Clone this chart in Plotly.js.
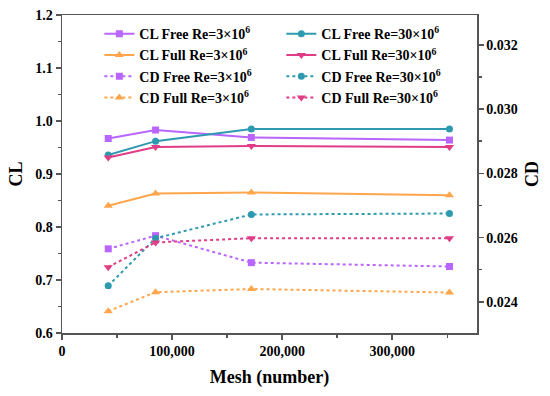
<!DOCTYPE html>
<html>
<head>
<meta charset="utf-8">
<script src="https://cdn.plot.ly/plotly-3.0.1.min.js"></script>
<style>html,body{margin:0;padding:0;background:#fff;}#chart{width:550px;height:396px;}</style>
</head>
<body>
<div id="chart"></div>
<script>
const mesh = [42000, 85000, 172000, 352000];

const clFree3 = [0.967, 0.983, 0.969, 0.964];
const clFree30 = [0.936, 0.962, 0.985, 0.985];
const clFull3 = [0.840, 0.863, 0.865, 0.860];
const clFull30 = [0.931, 0.951, 0.953, 0.951];

const cdFree3 = [0.02565, 0.02606, 0.02522, 0.02510];
const cdFree30 = [0.02450, 0.02598, 0.02672, 0.02675];
const cdFull3 = [0.02371, 0.02430, 0.02440, 0.02429];
const cdFull30 = [0.02508, 0.02585, 0.02598, 0.02598];

const names = [
  'CL Free Re=3×10<sup>6</sup>', 'CL Free Re=30×10<sup>6</sup>',
  'CL Full Re=3×10<sup>6</sup>', 'CL Full Re=30×10<sup>6</sup>',
  'CD Free Re=3×10<sup>6</sup>', 'CD Free Re=30×10<sup>6</sup>',
  'CD Full Re=3×10<sup>6</sup>', 'CD Full Re=30×10<sup>6</sup>'
];

const purple = '#b866ff', teal = '#2e9ab0', orange = '#ffa64d', pink = '#e03d86';

function tr(y, name, color, symbol, size, dash, axis) {
  return {
    x: mesh, y: y, name: name, type: 'scatter', mode: 'lines+markers',
    yaxis: axis,
    line: {color: color, width: 2, dash: dash},
    marker: {color: color, symbol: symbol, size: size}
  };
}

const data = [
  tr(clFree3, names[0], purple, 'square', 7, 'solid', 'y'),
  tr(clFree30, names[1], teal, 'circle', 7, 'solid', 'y'),
  tr(clFull3, names[2], orange, 'triangle-up', 8, 'solid', 'y'),
  tr(clFull30, names[3], pink, 'triangle-down', 8, 'solid', 'y'),
  tr(cdFree3, names[4], purple, 'square', 7, 'dot', 'y2'),
  tr(cdFree30, names[5], teal, 'circle', 7, 'dot', 'y2'),
  tr(cdFull3, names[6], orange, 'triangle-up', 8, 'dot', 'y2'),
  tr(cdFull30, names[7], pink, 'triangle-down', 8, 'dot', 'y2')
];

const font = {family: '"Liberation Serif", "Times New Roman", serif', color: '#000', size: 14};
const axcol = '#555';

const layout = {
  width: 550, height: 396,
  margin: {l: 62, r: 73, t: 15, b: 63},
  paper_bgcolor: '#fff', plot_bgcolor: '#fff',
  font: font,
  showlegend: true,
  legend: {
    orientation: 'h', x: 0.09, y: 0.99, xanchor: 'left', yanchor: 'top',
    entrywidth: 137, entrywidthmode: 'pixels',
    font: {family: font.family, size: 14, color: '#000', weight: 'bold'},
    bgcolor: 'rgba(0,0,0,0)', tracegroupgap: 0, itemwidth: 30
  },
  xaxis: {
    range: [0, 377000], tickvals: [0, 100000, 200000, 300000],
    ticktext: ['0', '100,000', '200,000', '300,000'],
    showgrid: false, zeroline: false, showline: true, linecolor: axcol, linewidth: 1.5,
    mirror: true, ticks: 'outside', ticklen: 5, tickcolor: axcol, tickwidth: 1.5,
    minor: {tickvals: [50000, 150000, 250000, 350000], ticks: 'outside', ticklen: 3, tickcolor: axcol, tickwidth: 1.5, showgrid: false},
    tickfont: {family: font.family, size: 14, color: '#000', weight: 'bold'},
    title: {text: 'Mesh (number)', font: {family: font.family, size: 18, color: '#000', weight: 'bold'}, standoff: 12}
  },
  yaxis: {
    range: [0.6, 1.2], dtick: 0.1, tickformat: '.1f',
    showgrid: false, zeroline: false, showline: true, linecolor: axcol, linewidth: 1.5,
    ticks: 'outside', ticklen: 5, tickcolor: axcol, tickwidth: 1.5,
    minor: {dtick: 0.05, ticks: 'outside', ticklen: 3, tickcolor: axcol, tickwidth: 1.5, showgrid: false},
    tickfont: {family: font.family, size: 14, color: '#000', weight: 'bold'},
    title: {text: 'CL', font: {family: font.family, size: 18, color: '#000', weight: 'bold'}, standoff: 8}
  },
  yaxis2: {
    overlaying: 'y', side: 'right', range: [0.02303, 0.03293],
    tickvals: [0.024, 0.026, 0.028, 0.030, 0.032], tickformat: '.3f',
    showgrid: false, zeroline: false, showline: true, linecolor: axcol, linewidth: 1.5,
    ticks: 'outside', ticklen: 5, tickcolor: axcol, tickwidth: 1.5,
    minor: {tickvals: [0.025, 0.027, 0.029, 0.031], ticks: 'outside', ticklen: 3, tickcolor: axcol, tickwidth: 1.5, showgrid: false},
    tickfont: {family: font.family, size: 14, color: '#000', weight: 'bold'},
    title: {text: 'CD', font: {family: font.family, size: 18, color: '#000', weight: 'bold'}, standoff: 8}
  }
};

Plotly.newPlot('chart', data, layout, {displayModeBar: false, staticPlot: true});
</script>
</body>
</html>
